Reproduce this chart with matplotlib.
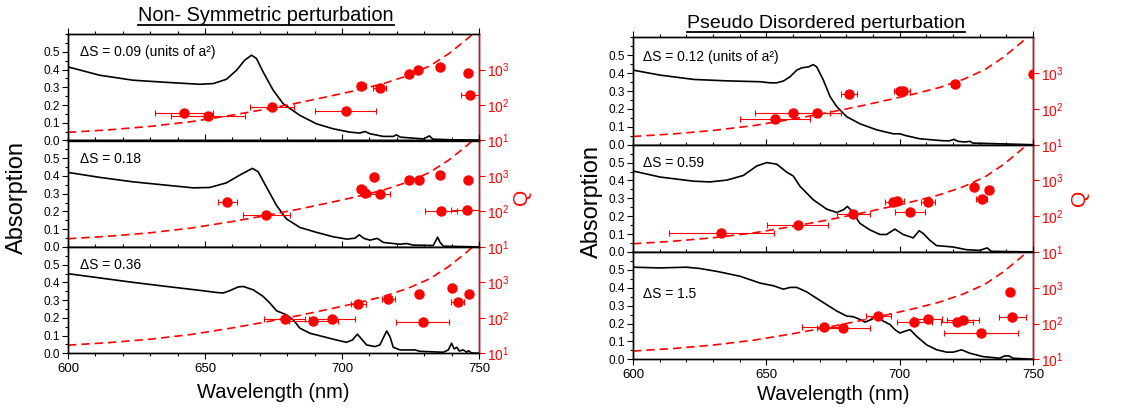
import numpy as np
import matplotlib.pyplot as plt
from matplotlib.lines import Line2D
from matplotlib.ticker import MultipleLocator, FixedLocator, LogLocator, NullFormatter, FormatStrFormatter

plt.rcParams['font.family'] = ['Liberation Sans', 'DejaVu Sans']
plt.rcParams['mathtext.fontset'] = 'custom'
plt.rcParams['mathtext.rm'] = 'Liberation Sans'
plt.rcParams['axes.linewidth'] = 1.0

# ---- fitted Q curve (same in every panel)
fit_wl = [600, 615, 630, 645, 660, 672, 684, 695, 705, 715, 724, 732, 739, 745, 750]
fit_q = [17, 20, 25, 34, 52, 76, 115, 174, 257, 398, 676, 1259, 2818, 6607, 14125]

# ---- Non-symmetric perturbation
ns1_wl = [600, 611.6, 623.7, 635.9, 648.1, 653, 657.8, 661.5, 664.5, 667, 668.8, 671.2, 674.9, 678.5,
          684.6, 690.7, 696.8, 702.9, 706.5, 708.4, 710.2, 715.1, 718.7, 719.9, 721.2, 729.7, 731.9,
          733.1, 739.4, 750]
ns1_abs = [0.415, 0.368, 0.34, 0.328, 0.317, 0.321, 0.345, 0.396, 0.453, 0.481, 0.462, 0.387, 0.283,
           0.208, 0.142, 0.094, 0.066, 0.047, 0.042, 0.051, 0.038, 0.023, 0.023, 0.032, 0.019, 0.009,
           0.026, 0.008, 0.004, 0.002]
ns1_qwl = [642.4, 651.1, 674.6, 701.3, 707.1, 713.8, 724.4, 727.8, 735.8, 746.1, 746.7]
ns1_q = [60, 48, 87, 66, 355, 309, 741, 955, 1175, 813, 191]
ns1_err = [10.6, 13.6, 8, 11, 1.8, 2.4, 0, 0, 1.5, 0, 3.4]

ns2_wl = [600, 611.6, 623.7, 635.9, 645.7, 651.7, 657.8, 662.7, 667.3, 669.4, 672.4, 676.1, 679.7,
          684.6, 690.7, 696.8, 701.7, 704.7, 706.3, 708, 710.2, 712.9, 715.1, 721.2, 723.6, 726,
          733.3, 734.2, 734.9, 735.8, 737, 750]
ns2_abs = [0.42, 0.392, 0.367, 0.348, 0.333, 0.335, 0.361, 0.405, 0.443, 0.424, 0.338, 0.234, 0.158,
           0.11, 0.082, 0.057, 0.044, 0.049, 0.068, 0.048, 0.038, 0.048, 0.025, 0.015, 0.019, 0.01,
           0.008, 0.034, 0.055, 0.025, 0.004, 0.0]
ns2_qwl = [658.2, 672.4, 707.1, 708.3, 711.7, 713.8, 724.4, 728.1, 735.8, 746.1, 736.2, 745.5]
ns2_q = [182, 79, 417, 339, 955, 302, 759, 759, 1047, 794, 105, 107]
ns2_err = [3.5, 8.5, 1.5, 1.5, 0, 3.6, 0, 0, 0, 0, 5.9, 5.6]

ns3_wl = [600, 611.6, 623.7, 635.9, 648.1, 654.2, 656.6, 659, 662.1, 663.9, 667.6, 671.2, 673.7,
          676.1, 679.7, 682.2, 684.6, 688.3, 693.1, 698, 701.6, 703.8, 705.6, 707.1, 709, 712, 713.8,
          715.3, 716.3, 717.5, 718.7, 721.2, 726.6, 728.5, 737, 738.8, 740, 740.9, 741.9, 742.8,
          744.3, 745.5, 746.1, 747.3, 750]
ns3_abs = [0.449, 0.425, 0.4, 0.377, 0.355, 0.343, 0.34, 0.353, 0.374, 0.377, 0.358, 0.321, 0.283,
           0.24, 0.217, 0.189, 0.142, 0.113, 0.094, 0.075, 0.062, 0.075, 0.108, 0.081, 0.047, 0.038,
           0.047, 0.094, 0.126, 0.094, 0.034, 0.019, 0.019, 0.011, 0.006, 0.019, 0.057, 0.025, 0.034,
           0.013, 0.019, 0.006, 0.015, 0.002, 0.0]
ns3_qwl = [679.1, 689.5, 696.4, 705.9, 716.9, 728.1, 729.4, 740.3, 742.2, 746.3]
ns3_q = [91, 79, 95, 251, 347, 479, 76, 692, 288, 479]
ns3_err = [7.5, 9, 8.5, 2.7, 2.4, 1, 9.7, 0, 2.4, 1]

# ---- Pseudo disordered perturbation
pd1_wl = [600, 610.2, 622.7, 635.2, 647.7, 651.4, 653.9, 656.4, 658.9, 661.4, 663.3, 665.8, 667.6,
          668.9, 671.4, 673.9, 676.4, 680.1, 685.1, 691.4, 697.6, 700.1, 702, 707.6, 716.3, 718.8,
          720.3, 721.9, 724.4, 726.3, 727.5, 735, 750]
pd1_abs = [0.417, 0.389, 0.365, 0.357, 0.352, 0.346, 0.346, 0.356, 0.38, 0.417, 0.43, 0.435, 0.448,
           0.435, 0.361, 0.269, 0.213, 0.157, 0.117, 0.083, 0.061, 0.061, 0.052, 0.033, 0.022, 0.022,
           0.03, 0.019, 0.015, 0.019, 0.009, 0.006, 0.0]
pd1_qwl = [653.3, 659.9, 669.0, 681.0, 700.3, 701.3, 720.9, 750.0]
pd1_q = [52, 76, 76, 257, 316, 316, 490, 933]
pd1_err = [13, 14, 9, 3, 2.5, 2.5, 1.5, 0]

pd2_wl = [600, 610.2, 622.7, 628.9, 635.2, 641.4, 646.4, 650.2, 653.9, 657.6, 660.1, 662.6, 667.6,
          672.6, 676.4, 678.9, 680.4, 682, 685.1, 688.9, 692.6, 695.1, 698.2, 701.3, 705.1, 707.3,
          708.8, 711.3, 713.8, 720, 725, 730, 732.8, 734.3, 750]
pd2_abs = [0.453, 0.419, 0.396, 0.392, 0.402, 0.428, 0.481, 0.5, 0.491, 0.447, 0.425, 0.368, 0.292,
           0.24, 0.221, 0.236, 0.255, 0.23, 0.16, 0.123, 0.098, 0.098, 0.128, 0.098, 0.079, 0.119,
           0.104, 0.066, 0.036, 0.028, 0.013, 0.009, 0.023, 0.004, 0.0]
pd2_qwl = [633.1, 661.7, 682.6, 697.6, 699.1, 703.8, 710.7, 727.9, 730.7, 733.5]
pd2_q = [33, 58, 115, 245, 269, 132, 257, 661, 302, 550]
pd2_err = [19.6, 11.5, 6.2, 3, 2.5, 5.6, 2.6, 1, 2, 1.5]

pd3_wl = [600, 610, 620, 625, 632, 640.2, 647.7, 652.7, 656.4, 658.9, 661.4, 665.1, 671.4, 676.4,
          680.1, 682.6, 685.1, 687, 689.5, 691.4, 693.9, 696.4, 698.2, 700.1, 702, 703.9, 706.4,
          710.1, 713.9, 717.6, 720.1, 723.2, 726.3, 731.3, 737.5, 739.4, 741, 742.5, 750]
pd3_abs = [0.515, 0.511, 0.515, 0.508, 0.49, 0.464, 0.426, 0.411, 0.392, 0.402, 0.402, 0.377, 0.317,
           0.27, 0.242, 0.238, 0.223, 0.208, 0.223, 0.242, 0.213, 0.194, 0.166, 0.147, 0.157, 0.166,
           0.128, 0.081, 0.053, 0.04, 0.04, 0.053, 0.034, 0.015, 0.006, 0.019, 0.019, 0.006, 0.0]
pd3_qwl = [671.6, 678.9, 692.0, 705.5, 710.5, 721.6, 723.6, 730.5, 741.3, 742.3]
pd3_q = [81, 74, 162, 110, 135, 110, 126, 55, 741, 155]
pd3_err = [8.3, 9.8, 4.6, 6.5, 5.4, 6, 6, 14, 0, 5]

ds_left = ['\u0394S = 0.09 (units of a\u00b2)', '\u0394S = 0.18', '\u0394S = 0.36']
ds_right = ['\u0394S = 0.12 (units of a\u00b2)', '\u0394S = 0.59', '\u0394S = 1.5']

W, H = 1140, 412
fig = plt.figure(figsize=(W / 100, H / 100), dpi=100)


def panel(rect, wl, ab, qwl, q, qerr, label, label_pos, bottom):
    ax = fig.add_axes(rect)
    ax.plot(wl, ab, color='black', lw=1.2)
    ax.set_xlim(600, 750)
    ax.set_ylim(0, 0.6)
    ax.yaxis.set_major_locator(FixedLocator([0, 0.1, 0.2, 0.3, 0.4, 0.5]))
    ax.yaxis.set_minor_locator(MultipleLocator(0.05))
    ax.yaxis.set_major_formatter(FormatStrFormatter('%.1f'))
    ax.xaxis.set_major_locator(MultipleLocator(50))
    ax.xaxis.set_minor_locator(MultipleLocator(10))
    ax.tick_params(which='major', length=4, width=0.8, labelsize=8.5, pad=2)
    ax.tick_params(which='minor', length=2, width=0.8)
    ax.tick_params(axis='x', labelsize=9.5, pad=3)
    # inward ticks along the top edge
    ax.tick_params(axis='x', which='both', top=True, labeltop=False)
    ax.xaxis.set_tick_params(which='both', direction='out')
    if not bottom:
        ax.tick_params(axis='x', labelbottom=False)
    ax.text(label_pos[0], label_pos[1], label, transform=ax.transAxes,
            fontsize=10, va='center', ha='left')

    axq = ax.twinx()
    axq.set_yscale('log')
    axq.set_ylim(10, 1e4)
    axq.yaxis.set_major_locator(FixedLocator([10, 100, 1000]))
    axq.yaxis.set_minor_locator(LogLocator(base=10, subs=np.arange(2, 10)))
    axq.yaxis.set_minor_formatter(NullFormatter())
    axq.plot(fit_wl, fit_q, '--', color='red', lw=1.2, dashes=(5, 3))
    axq.errorbar(qwl, q, xerr=qerr, fmt='o', color='red', ms=6.5, ecolor='red',
                 elinewidth=0.8, capsize=2, capthick=0.8)
    axq.spines['right'].set_color('red')
    axq.tick_params(axis='y', which='both', colors='red', width=0.8)
    axq.tick_params(axis='y', which='major', length=4, labelsize=10, pad=2)
    axq.tick_params(axis='y', which='minor', length=2)
    axq.set_xlim(600, 750)
    return ax


# left group
lx, lw_ = 68 / W, 411 / W
lh = 106.4 / H
lb = 1 - 353.3 / H
for i, (wl, ab, qwl, q, qe) in enumerate([(ns1_wl, ns1_abs, ns1_qwl, ns1_q, ns1_err),
                                          (ns2_wl, ns2_abs, ns2_qwl, ns2_q, ns2_err),
                                          (ns3_wl, ns3_abs, ns3_qwl, ns3_q, ns3_err)]):
    ax = panel([lx, lb + (2 - i) * lh, lw_, lh], wl, ab, qwl, q, qe, ds_left[i], (0.03, 0.83), i == 2)
    if i == 0:
        ax.tick_params(axis='x', which='both', top=True)

# right group
rx, rw = 633 / W, 400 / W
rh = 107.3 / H
rb = 1 - 359.3 / H
ypos = [0.82, 0.83, 0.61]
for i, (wl, ab, qwl, q, qe) in enumerate([(pd1_wl, pd1_abs, pd1_qwl, pd1_q, pd1_err),
                                          (pd2_wl, pd2_abs, pd2_qwl, pd2_q, pd2_err),
                                          (pd3_wl, pd3_abs, pd3_qwl, pd3_q, pd3_err)]):
    panel([rx, rb + (2 - i) * rh, rw, rh], wl, ab, qwl, q, qe, ds_right[i], (0.025, ypos[i]), i == 2)

# axis labels
fig.text(17 / W, 1 - 197 / H, 'Absorption', rotation=90, fontsize=17, ha='center', va='center')
fig.text(592 / W, 1 - 202 / H, 'Absorption', rotation=90, fontsize=17, ha='center', va='center')
fig.text(522 / W, 1 - 197 / H, 'Q', rotation=90, fontsize=15, color='red', ha='center', va='center')
fig.text(1080 / W, 1 - 198 / H, 'Q', rotation=90, fontsize=15, color='red', ha='center', va='center')
fig.text(273.5 / W, 1 - 392 / H, 'Wavelength (nm)', fontsize=14.5, ha='center', va='center')
fig.text(833 / W, 1 - 395 / H, 'Wavelength (nm)', fontsize=14.5, ha='center', va='center')

# underlined titles
t1 = fig.text(266 / W, 1 - 21 / H, 'Non- Symmetric perturbation', fontsize=14.4, ha='center', va='baseline')
t2 = fig.text(826 / W, 1 - 28 / H, 'Pseudo Disordered perturbation', fontsize=14, ha='center', va='baseline')
fig.canvas.draw()
for t in (t1, t2):
    bb = t.get_window_extent()
    y = (bb.y0 + 0.5) / H
    fig.add_artist(Line2D([bb.x0 / W, bb.x1 / W], [y, y], transform=fig.transFigure,
                          color='black', lw=1.3))

fig.savefig('out.png', dpi=100)
